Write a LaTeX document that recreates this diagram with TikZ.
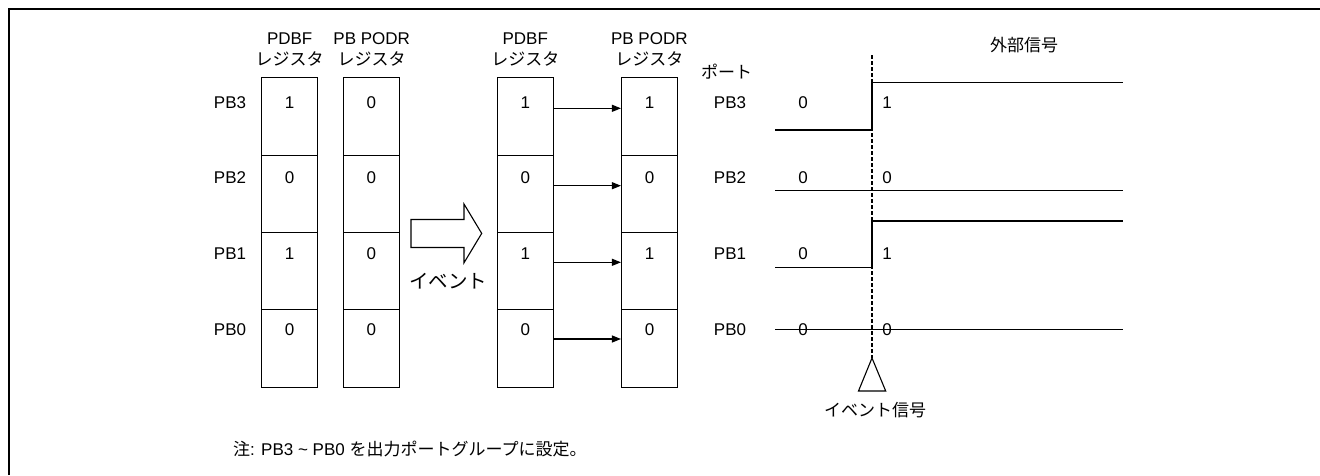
\documentclass[tikz,border=0pt]{standalone}
\usepackage{fontspec}
\setmainfont{Liberation Sans}
\newfontfamily\jp{Noto Sans CJK JP}
\usetikzlibrary{arrows.meta}
\begin{document}
\begin{tikzpicture}[x=1pt,y=-1pt,
  every node/.style={font=\fontsize{17}{21}\selectfont, inner sep=0pt},
  cell/.style={draw, line width=1.1pt, minimum width=56pt, minimum height=77.4pt},
  hdr/.style={align=center},
  ln/.style={line width=1.1pt},
  xfer/.style={line width=1.1pt, -{Triangle[length=9pt,width=7pt]}}]
\useasboundingbox (0,0) rectangle (1320,475);
\draw[line width=2pt] (9,475) -- (9,9) -- (1320,9);

% register cells
\foreach \col/\x in {a/289.7,b/371.3,c/525.3,d/649.5}{
  \foreach \r/\y in {3/116.4,2/193.8,1/271.2,0/348.6}{
    \node[cell] (\col\r) at (\x,\y) {};
  }
}
% values
\foreach \r/\y/\va/\vb/\vc/\vd in {3/102.5/1/0/1/1, 2/178/0/0/0/0, 1/254/1/0/1/1, 0/329.5/0/0/0/0}{
  \node (va\r) at (289.7,\y) {\va};
  \node (vb\r) at (371.3,\y) {\vb};
  \node (vc\r) at (525.3,\y) {\vc};
  \node (vd\r) at (649.5,\y) {\vd};
  \node (pl\r) at (230,\y) {PB\r};
  \node (pr\r) at (730,\y) {PB\r};
  \node (s0\r) at (803,\y) {0};
}
\node (s13) at (887,102.5) {1};
\node (s12) at (887,178) {0};
\node (s11) at (887,254) {1};
\node (s10) at (887,329.5) {0};

% headers
\node[hdr] (ha) at (289.7,49.5) {PDBF\\{\jp レジスタ}};
\node[hdr] (hb) at (371.7,49.5) {PB PODR\\{\jp レジスタ}};
\node[hdr] (hc) at (525.3,49.5) {PDBF\\{\jp レジスタ}};
\node[hdr] (hd) at (649.3,49.5) {PB PODR\\{\jp レジスタ}};
\node (port) at (726.7,72) {\jp ポート};
\node (ext) at (1024,45) {\jp 外部信号};

% transfer arrows
\foreach \r/\s in {3/8.1,2/8.1,1/8.9,0/9.6}{
  \draw[xfer] ([yshift=\s pt]c\r.east) -- ([yshift=\s pt]d\r.west);
}

% big event arrow
\draw[line width=1.1pt] (411,219.5) -- (464,219.5) -- (464,204) -- (481.7,233.4)
  -- (464,262.8) -- (464,247.5) -- (411,247.5) -- cycle;
\node (ev) at (448,281.5) {\fontsize{19.5}{22}\selectfont\jp イベント};

% signals
\draw[ln] (775,130) -- (872,130) -- (872,82.7) -- (1123,82.7);
\draw[ln] (775,190.3) -- (1123,190.3);
\draw[ln] (775,267.3) -- (872,267.3) -- (872,221) -- (1123,221);
\draw[ln] (775,329.3) -- (1123,329.3);

% event signal
\draw[ln, dash pattern=on 4pt off 2pt] (872,55) -- (872,358);
\draw[ln] (872,358) -- (885.7,391) -- (858.5,391) -- cycle;
\node (evs) at (875,410) {\jp イベント信号};

% note
\node[anchor=west] (note) at (233,449.3) {{\jp 注}: PB3 \textasciitilde{} PB0 {\jp を出力ポートグループに設定。}};
\end{tikzpicture}
\end{document}
